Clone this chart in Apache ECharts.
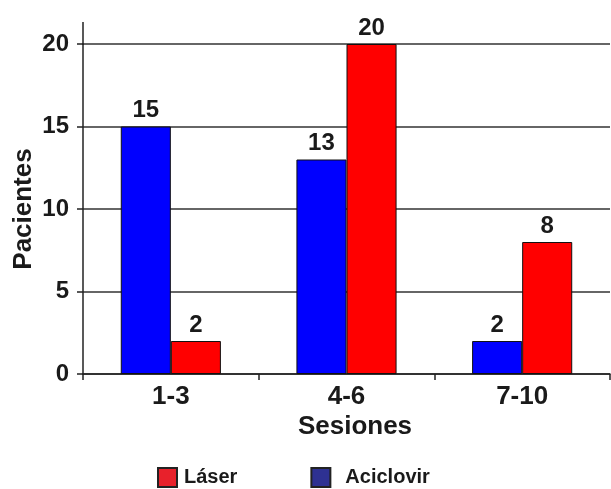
<!DOCTYPE html>
<html>
<head>
<meta charset="utf-8">
<script src="https://cdn.jsdelivr.net/npm/echarts@6/dist/echarts.min.js"></script>
<style>html,body{margin:0;padding:0;background:#fff}#c{width:611px;height:489px}</style>
</head>
<body>
<div id="c"></div>
<script>
var categories = ['1-3', '4-6', '7-10'];
var aciclovir = [15, 13, 2];
var laser = [2, 20, 8];
var yTicks = [0, 5, 10, 15, 20];

var FONT = '"Liberation Sans", Arial, sans-serif';
var TXT = '#1a1a1a';
var chart = echarts.init(document.getElementById('c'), null, {renderer: 'canvas'});
var lbl = {show: true, position: 'top', distance: 4, color: TXT, fontFamily: FONT, fontWeight: 'bold', fontSize: 24};
chart.setOption({
  animation: false,
  backgroundColor: '#fff',
  grid: {left: 83, right: 1, top: 44, bottom: 115, containLabel: false, outerBoundsMode: 'none'},
  legend: {
    left: 157, top: 467, padding: 0, icon: 'rect', itemWidth: 19, itemHeight: 19, itemGap: 73,
    textStyle: {color: TXT, fontFamily: FONT, fontWeight: 'bold', fontSize: 20},
    data: [
      {name: 'Láser', itemStyle: {color: '#e8212b', borderColor: '#222', borderWidth: 2}, textStyle: {padding: [0, 0, 0, 2]}},
      {name: 'Aciclovir', itemStyle: {color: '#2e3192', borderColor: '#222', borderWidth: 2}, textStyle: {padding: [0, 0, 0, 10]}}
    ]
  },
  xAxis: {
    type: 'category', data: categories,
    name: 'Sesiones', nameLocation: 'middle', nameGap: 40, nameMoveOverlap: false,
    nameTextStyle: {color: TXT, fontFamily: FONT, fontWeight: 'bold', fontSize: 26, padding: [0, 0, 0, 17]},
    axisLine: {lineStyle: {color: '#222', width: 1.5}},
    axisTick: {show: true, length: 6, lineStyle: {color: '#222', width: 1.5}},
    axisLabel: {color: TXT, fontFamily: FONT, fontWeight: 'bold', fontSize: 26, margin: 10}
  },
  yAxis: {
    type: 'value', min: 0, max: 20, interval: 5,
    name: 'Pacientes', nameLocation: 'middle', nameGap: 46, nameRotate: 90, nameMoveOverlap: false,
    nameTextStyle: {color: TXT, fontFamily: FONT, fontWeight: 'bold', fontSize: 26},
    axisLine: {show: true, lineStyle: {color: '#222', width: 1.5}},
    axisTick: {show: true, length: 6, lineStyle: {color: '#222', width: 1.5}},
    axisLabel: {color: TXT, fontFamily: FONT, fontWeight: 'bold', fontSize: 24, margin: 14,
      formatter: function (v) { return yTicks.indexOf(v) >= 0 ? String(v) : ''; }},
    splitLine: {show: true, lineStyle: {color: '#333', width: 1.5}}
  },
  series: [
    {name: 'Aciclovir', type: 'bar', data: aciclovir, barGap: '0%', barCategoryGap: '43%',
      itemStyle: {color: '#0000ff', borderColor: '#111', borderWidth: 1}, label: lbl, z: 3},
    {name: 'Láser', type: 'bar', data: laser, barGap: '0%', barCategoryGap: '43%',
      itemStyle: {color: '#ff0000', borderColor: '#111', borderWidth: 1}, label: lbl, z: 3}
  ],
  graphic: [
    {type: 'line', shape: {x1: 83, y1: 22, x2: 83, y2: 45}, style: {stroke: '#222', lineWidth: 1.5}, z: 10}
  ]
});
</script>
</body>
</html>
